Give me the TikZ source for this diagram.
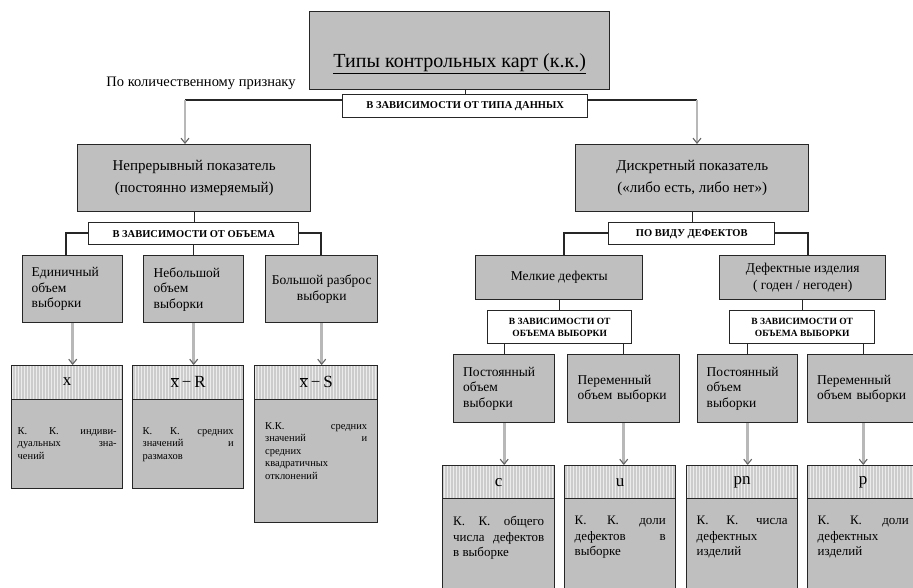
\documentclass[tikz,border=0pt]{standalone}
\usepackage{fontspec}
\setmainfont{Liberation Serif}
\usetikzlibrary{arrows.meta,patterns,backgrounds}
\newcommand\mybox[7]{\node[#6, minimum width={(#4)-(#2)}, minimum height={(#5)-(#3)}, anchor=north west] (#1) at (#2,#3) {#7};}
\tikzset{
  box/.style={draw=black!85, line width=1.4pt, fill=black!25, inner sep=0pt},
  lab/.style={draw=black!85, line width=1.4pt, fill=white, inner sep=0pt, align=center,
    font=\bfseries\fontsize{10.5}{12}\selectfont},
  hdr/.style={draw=black!85, line width=1.4pt, preaction={fill=black!20}, pattern=vertical lines,
    pattern color=white!85!gray, inner sep=0pt, font=\fontsize{17}{19}\selectfont},
  big/.style={font=\fontsize{15}{22}\selectfont, align=center},
  mid/.style={font=\fontsize{13.5}{15.5}\selectfont},
  bodyA/.style={font=\fontsize{10.5}{12.5}\selectfont, align=justify, inner sep=0pt, anchor=north},
  bodyB/.style={font=\fontsize{13}{15.5}\selectfont, align=justify, inner sep=0pt, anchor=north},
  conn/.style={draw=black!85, line width=1.3pt},
  arr/.style={draw=black!28, line width=2.8pt,
    -{Straight Barb[length=5pt,width=8pt,line width=1.1pt,color=black!60]}},
}
\begin{document}
\begin{tikzpicture}[x=1pt,y=-1pt]
\useasboundingbox (0,0) rectangle (913,587);
% top
\mybox{title}{309}{11}{609}{89}{box}{\raisebox{-17pt}[0pt][0pt]{\fontsize{20}{24}\selectfont\underline{Типы контрольных карт (к.к.)}}}
\node[font=\fontsize{14.5}{17}\selectfont, inner sep=0pt] (qual) at (201,83) {По количественному признаку};
\mybox{lab1}{342}{94}{587}{117}{lab}{В ЗАВИСИМОСТИ ОТ ТИПА ДАННЫХ}
\mybox{cont}{77}{144}{310}{211}{box,big}{\raisebox{-3pt}{\parbox{220pt}{\centering Непрерывный показатель\\(постоянно измеряемый)}}}
\mybox{disc}{575}{144}{808}{211}{box,big}{\raisebox{-3pt}{\parbox{220pt}{\centering Дискретный показатель\\(«либо есть, либо нет»)}}}
% left branch
\mybox{lab2}{88}{222}{298}{244}{lab}{В ЗАВИСИМОСТИ ОТ ОБЪЕМА}
\mybox{b1}{22}{255}{122}{322}{box,mid,text width=82pt,align=left}{Единичный\\объем\\выборки}
\mybox{b2}{143}{255}{243}{322}{box,mid,text width=80pt,align=left}{Небольшой\\объем\\выборки}
\mybox{b3}{265}{255}{377}{322}{box,mid,align=center}{Большой разброс\\выборки}
\mybox{h1}{11}{365}{122}{399}{hdr}{\raisebox{3pt}{x}}
\mybox{c1}{11}{399}{122}{488}{box}{}
\mybox{h2}{132}{365}{243}{399}{hdr}{\raisebox{2pt}{\(\overline{\hbox{x}}\)\,−\,R}}
\mybox{c2}{132}{399}{243}{488}{box}{}
\mybox{h3}{254}{365}{377}{399}{hdr}{\raisebox{2pt}{\(\overline{\hbox{x}}\)\,−\,S}}
\mybox{c3}{254}{399}{377}{522}{box}{}
\node[bodyA, text width=99pt] (c1t) at ([yshift=-28pt]c1.north) {К.\hfill К.\hfill индиви-\\дуальных\hfill зна-\\чений};
\node[bodyA, text width=91pt] (c2t) at ([yshift=-28pt]c2.north) {К.\hfill К.\hfill средних\\значений\hfill и\\размахов};
\node[bodyA, text width=102pt] (c3t) at ([yshift=-23pt]c3.north) {К.К.\hfill средних\\значений\hfill и\\средних\\квадратичных\\отклонений};
% right branch
\mybox{lab3}{608}{222}{774}{244}{lab}{ПО ВИДУ ДЕФЕКТОВ}
\mybox{m1}{475}{255}{642}{299}{box,mid,align=center}{Мелкие дефекты}
\mybox{m2}{719}{255}{885}{299}{box,mid,align=center,font=\fontsize{13.5}{17}\selectfont}{Дефектные изделия\\( годен / негоден)}
\mybox{lab4}{487}{310}{631}{343}{lab,font=\bfseries\fontsize{9.5}{12}\selectfont}{В ЗАВИСИМОСТИ ОТ\\ОБЪЕМА ВЫБОРКИ}
\mybox{lab5}{729}{310}{874}{343}{lab,font=\bfseries\fontsize{9.5}{12}\selectfont}{В ЗАВИСИМОСТИ ОТ\\ОБЪЕМА ВЫБОРКИ}
\mybox{l1}{453}{354}{554}{422}{box,mid,text width=82pt,align=left}{Постоянный\\объем\\выборки}
\mybox{l2}{567}{354}{679}{422}{box,mid,text width=92pt,align=left}{Переменный\\объем выборки}
\mybox{l3}{697}{354}{797}{422}{box,mid,text width=82pt,align=left}{Постоянный\\объем\\выборки}
\mybox{l4}{807}{354}{918}{422}{box,mid,text width=92pt,align=left}{Переменный\\объем выборки}
\mybox{g1}{442}{465}{554}{498}{hdr}{c}
\mybox{d1}{442}{498}{554}{600}{box}{}
\mybox{g2}{564}{465}{675}{498}{hdr}{u}
\mybox{d2}{564}{498}{675}{600}{box}{}
\mybox{g3}{686}{465}{797}{498}{hdr}{pn}
\mybox{d3}{686}{498}{797}{600}{box}{}
\mybox{g4}{807}{465}{918}{498}{hdr}{p}
\mybox{d4}{807}{498}{918}{600}{box}{}
\node[bodyB, text width=91pt] (d1t) at ([yshift=-18pt]d1.north) {К.\hfill К.\hfill общего\\числа\hfill дефектов\\в выборке};
\node[bodyB, text width=91pt] (d2t) at ([yshift=-18pt]d2.north) {К.\hfill К.\hfill доли\\дефектов\hfill в\\выборке};
\node[bodyB, text width=91pt] (d3t) at ([yshift=-18pt]d3.north) {К.\hfill К.\hfill числа\\дефектных\\изделий};
\node[bodyB, text width=91pt] (d4t) at ([yshift=-18pt]d4.north) {К.\hfill К.\hfill доли\\дефектных\\изделий};
% connectors
\coordinate (j1) at (185,100);
\coordinate (j2) at (697,100);
\coordinate (k1) at (66,233);
\coordinate (k3) at (321,233);
\coordinate (k4) at (564,233);
\coordinate (k5) at (808,233);
\begin{pgfonlayer}{background}
\draw[conn] (lab1.north) -- ([yshift=7pt]title.south -| lab1.north);
\draw[conn] (j1) -- (j2);
\draw[arr] (j1) -- (j1 |- cont.north);
\draw[arr] (j2) -- (j2 |- disc.north);
\draw[conn] (cont.south) -- (cont.south |- lab2.north);
\draw[conn] (k1 |- b1.north) -- (k1) -- (k3) -- (k3 |- b3.north);
\draw[conn] (lab2.south) -- (lab2.south |- b2.north);
\draw[arr] (b1.south) -- (b1.south |- h1.north);
\draw[arr] (b2.south) -- (b2.south |- h2.north);
\draw[arr] (b3.south) -- (b3.south |- h3.north);
\draw[conn] (disc.south) -- (disc.south |- lab3.north);
\draw[conn] (k4 |- m1.north) -- (k4) -- (k5) -- (k5 |- m2.north);
\draw[conn] (m1.south) -- (m1.south |- lab4.north);
\draw[conn] (m2.south) -- (m2.south |- lab5.north);
\draw[conn] (l1.north) -- (l1.north |- lab4.south);
\draw[conn] (l2.north) -- (l2.north |- lab4.south);
\draw[conn] (l3.north) -- (l3.north |- lab5.south);
\draw[conn] (l4.north) -- (l4.north |- lab5.south);
\draw[arr] (l1.south) -- (l1.south |- g1.north);
\draw[arr] (l2.south) -- (l2.south |- g2.north);
\draw[arr] (l3.south) -- (l3.south |- g3.north);
\draw[arr] (l4.south) -- (l4.south |- g4.north);
\end{pgfonlayer}
\end{tikzpicture}
\end{document}
